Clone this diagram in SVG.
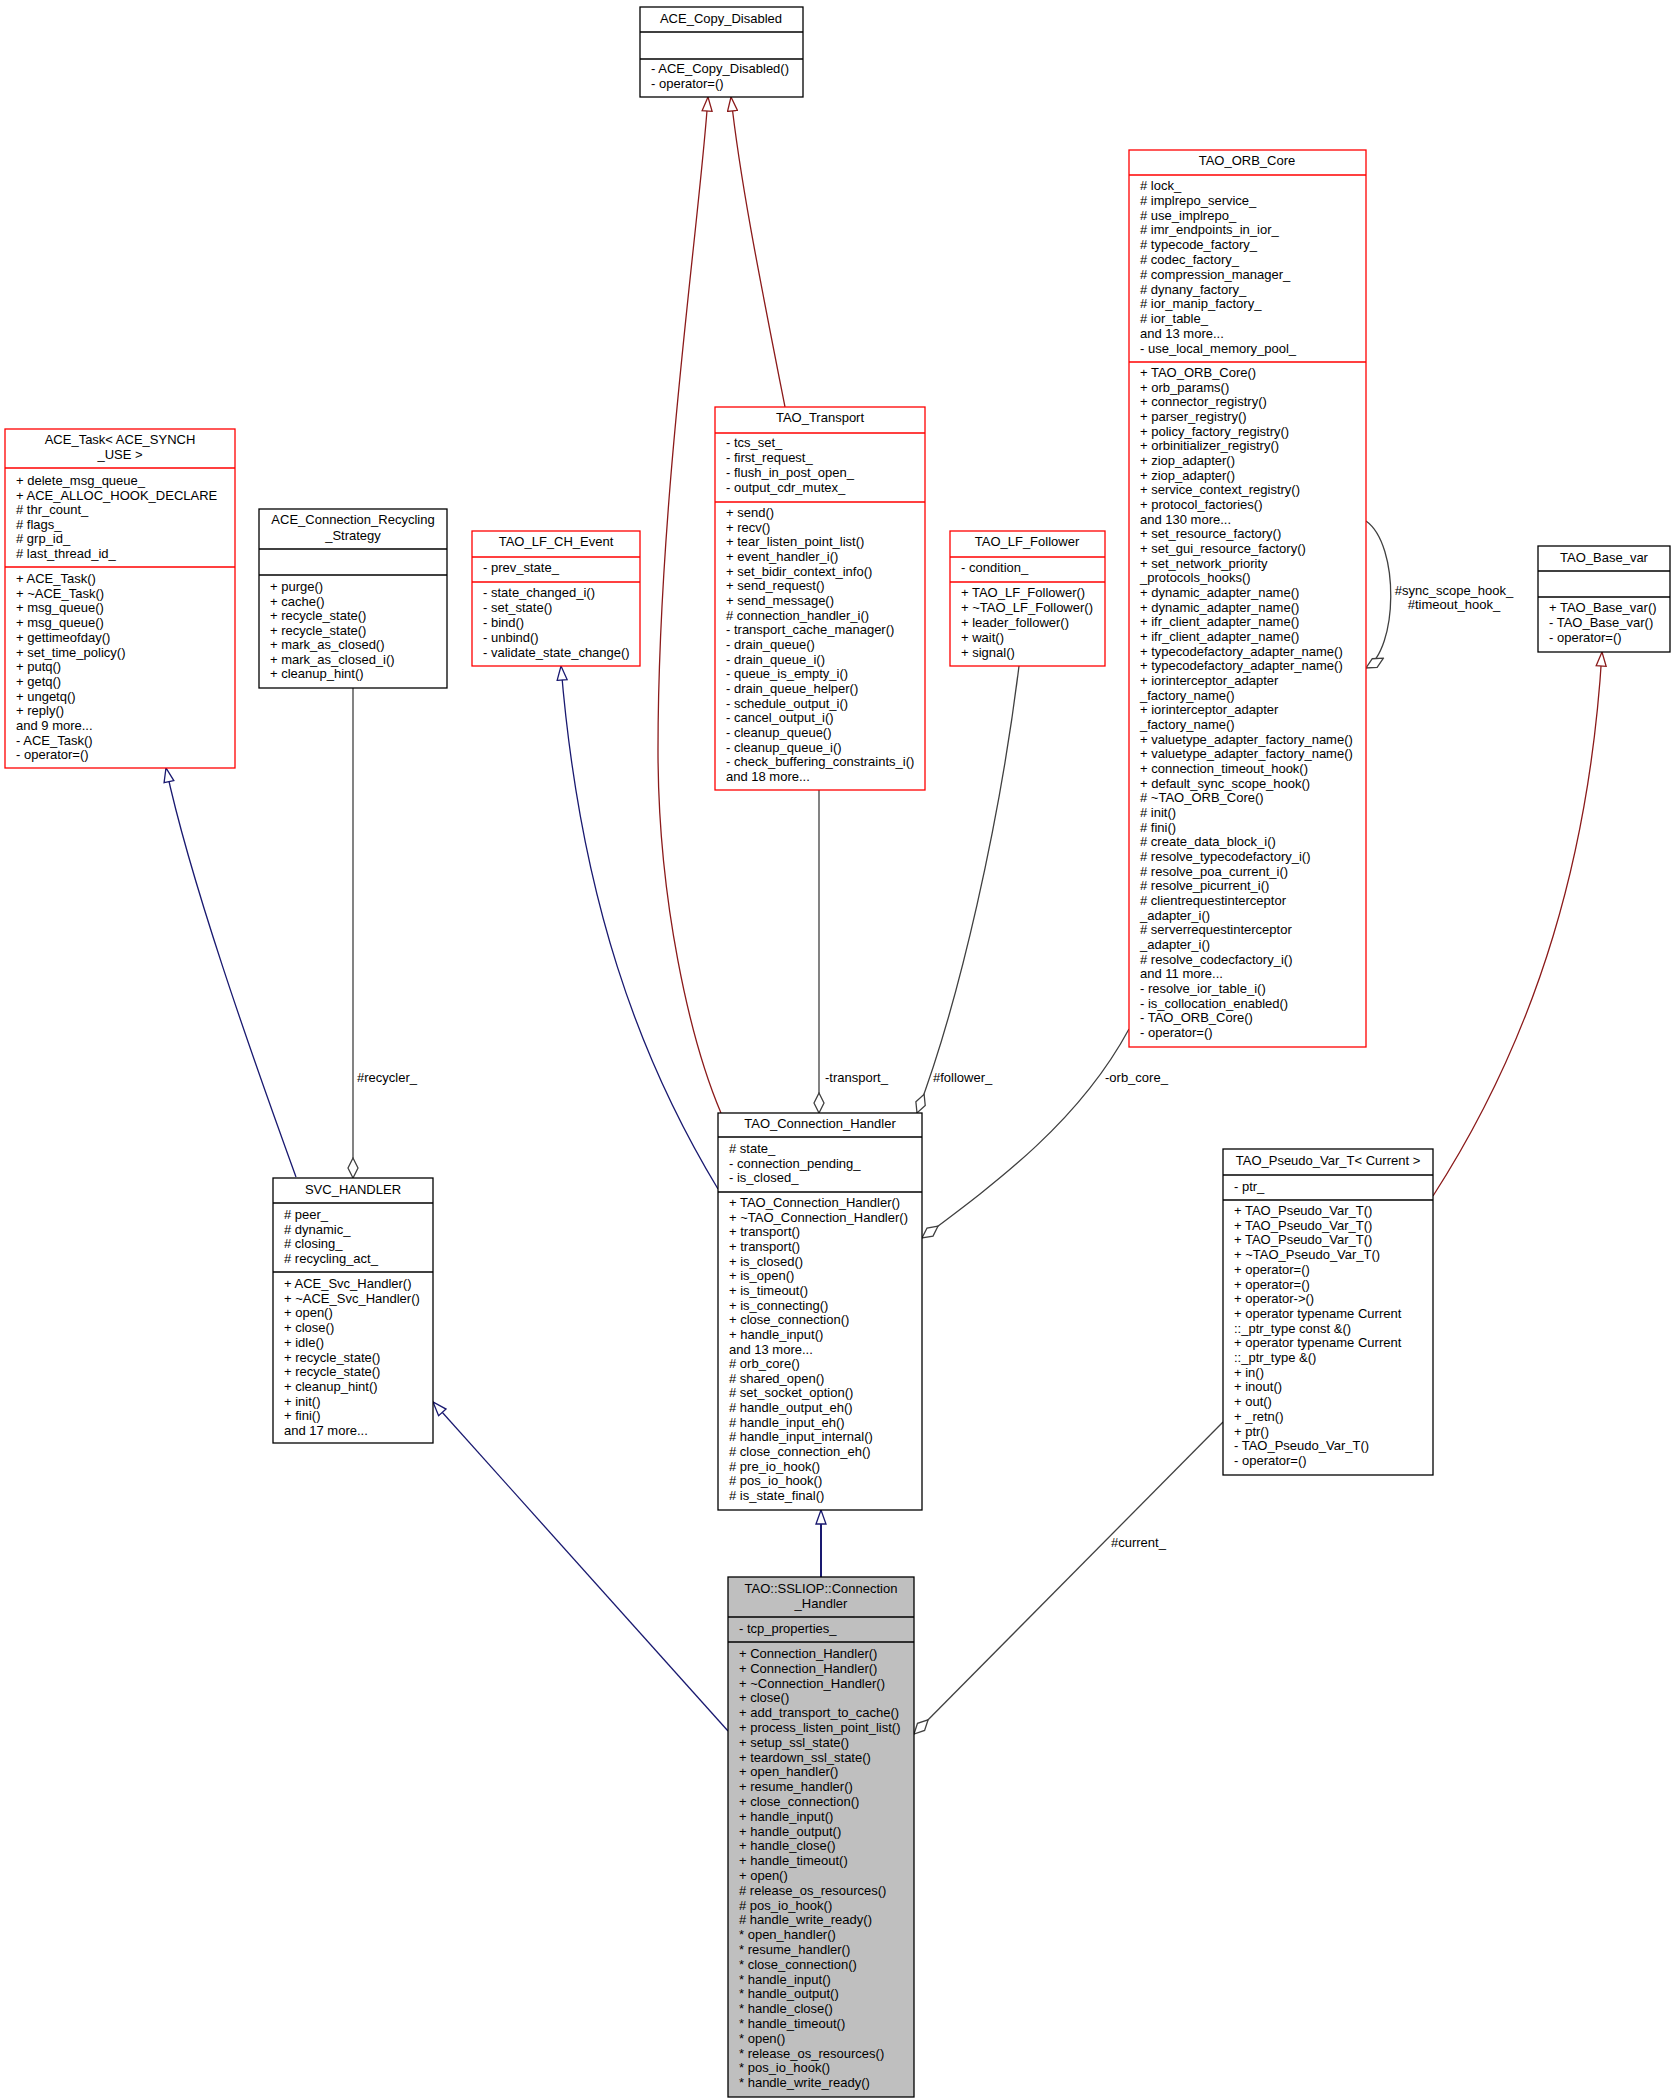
<svg xmlns="http://www.w3.org/2000/svg" width="1671" height="2099" viewBox="0 0 1671 2099">
<style>
text{font-family:"Liberation Sans",Arial,sans-serif;font-size:13px;fill:#000}
.t{text-anchor:middle}
.bk{fill:#fff;stroke:#000;stroke-width:1.3}
.rd{fill:#fff;stroke:#f00;stroke-width:1.3}
.gy{fill:#bfbfbf;stroke:#000;stroke-width:1.3}
.sk{stroke:#000;stroke-width:1.3}
.sr{stroke:#f00;stroke-width:1.3}
.nv{fill:none;stroke:#191970;stroke-width:1.3}
.dr{fill:none;stroke:#8b1a1a;stroke-width:1.3}
.cg{fill:none;stroke:#404040;stroke-width:1.3}
</style>
<defs>
<marker id="tn" markerUnits="userSpaceOnUse" markerWidth="16" markerHeight="12" viewBox="0 0 16 12" refX="15" refY="6" orient="auto"><path d="M1,1 L15,6 L1,11 Z" fill="#fff" stroke="#191970" stroke-width="1.3"/></marker>
<marker id="tr" markerUnits="userSpaceOnUse" markerWidth="16" markerHeight="12" viewBox="0 0 16 12" refX="15" refY="6" orient="auto"><path d="M1,1 L15,6 L1,11 Z" fill="#fff" stroke="#8b1a1a" stroke-width="1.3"/></marker>
<marker id="dm" markerUnits="userSpaceOnUse" markerWidth="22" markerHeight="12" viewBox="0 0 22 12" refX="21" refY="6" orient="auto"><path d="M1,6 L11,1 L21,6 L11,11 Z" fill="#fff" stroke="#404040" stroke-width="1.3"/></marker>
</defs>

<g id="connectors">
<path class="dr" d="M721,1113 C690,1040 658,900 658,750 C658,500 700,220 708,97" marker-end="url(#tr)"/>
<path class="dr" d="M785,407 C760,280 740,180 731,97" marker-end="url(#tr)"/>
<path class="nv" d="M296,1177 C250,1050 190,880 166,768" marker-end="url(#tn)"/>
<path class="nv" d="M718,1189 C640,1060 580,900 561,666" marker-end="url(#tn)"/>
<path class="dr" d="M1433,1196 C1540,1030 1590,850 1602,652" marker-end="url(#tr)"/>
<path class="nv" d="M821,1577 L821,1510" marker-end="url(#tn)" style="stroke-width:2"/>
<path class="nv" d="M728,1731 L433,1402" marker-end="url(#tn)"/>
<path class="cg" d="M353,688 L353,1178" marker-end="url(#dm)"/>
<path class="cg" d="M819,790 L819,1113" marker-end="url(#dm)"/>
<path class="cg" d="M1019,666 C1000,820 960,1000 917,1113" marker-end="url(#dm)"/>
<path class="cg" d="M1129,1029 C1080,1120 1000,1180 922,1238" marker-end="url(#dm)"/>
<path class="cg" d="M1366,521 C1400,545 1398,650 1366,668" marker-end="url(#dm)"/>
<path class="cg" d="M1223,1422 L914,1734" marker-end="url(#dm)"/>
<text x="357" y="1082">#recycler_</text>
<text x="825" y="1082">-transport_</text>
<text x="933" y="1082">#follower_</text>
<text x="1105" y="1082">-orb_core_</text>
<text class="t" x="1454" y="595">#sync_scope_hook_</text>
<text class="t" x="1454" y="609">#timeout_hook_</text>
<text x="1111" y="1547">#current_</text>
</g>

<g id="ACE_Copy_Disabled">
<rect class="bk" x="640" y="7" width="163" height="90"/>
<line class="sk" x1="640" y1="32" x2="803" y2="32"/><line class="sk" x1="640" y1="59" x2="803" y2="59"/>
<text class="t" x="721" y="23">ACE_Copy_Disabled</text>
<text x="651" y="73">- ACE_Copy_Disabled()<tspan x="651" dy="15">- operator=()</tspan></text>
</g>

<g id="ACE_Task">
<rect class="rd" x="5" y="429" width="230" height="339"/>
<line class="sr" x1="5" y1="468" x2="235" y2="468"/><line class="sr" x1="5" y1="567" x2="235" y2="567"/>
<text class="t" x="120" y="444">ACE_Task&lt; ACE_SYNCH<tspan x="120" dy="15">_USE &gt;</tspan></text>
<text x="16" y="485">+ delete_msg_queue_<tspan x="16" dy="14.6">+ ACE_ALLOC_HOOK_DECLARE</tspan><tspan x="16" dy="14.6"># thr_count_</tspan><tspan x="16" dy="14.6"># flags_</tspan><tspan x="16" dy="14.6"># grp_id_</tspan><tspan x="16" dy="14.6"># last_thread_id_</tspan></text>
<text x="16" y="583">+ ACE_Task()<tspan x="16" dy="14.7">+ ~ACE_Task()</tspan><tspan x="16" dy="14.7">+ msg_queue()</tspan><tspan x="16" dy="14.7">+ msg_queue()</tspan><tspan x="16" dy="14.7">+ gettimeofday()</tspan><tspan x="16" dy="14.7">+ set_time_policy()</tspan><tspan x="16" dy="14.7">+ putq()</tspan><tspan x="16" dy="14.7">+ getq()</tspan><tspan x="16" dy="14.7">+ ungetq()</tspan><tspan x="16" dy="14.7">+ reply()</tspan><tspan x="16" dy="14.7">and 9 more...</tspan><tspan x="16" dy="14.7">- ACE_Task()</tspan><tspan x="16" dy="14.7">- operator=()</tspan></text>
</g>

<g id="ACE_Connection_Recycling_Strategy">
<rect class="bk" x="259" y="509" width="188" height="179"/>
<line class="sk" x1="259" y1="549" x2="447" y2="549"/><line class="sk" x1="259" y1="575" x2="447" y2="575"/>
<text class="t" x="353" y="524">ACE_Connection_Recycling<tspan x="353" dy="16">_Strategy</tspan></text>
<text x="270" y="591">+ purge()<tspan x="270" dy="14.5">+ cache()</tspan><tspan x="270" dy="14.5">+ recycle_state()</tspan><tspan x="270" dy="14.5">+ recycle_state()</tspan><tspan x="270" dy="14.5">+ mark_as_closed()</tspan><tspan x="270" dy="14.5">+ mark_as_closed_i()</tspan><tspan x="270" dy="14.5">+ cleanup_hint()</tspan></text>
</g>

<g id="TAO_LF_CH_Event">
<rect class="rd" x="472" y="531" width="168" height="135"/>
<line class="sr" x1="472" y1="557" x2="640" y2="557"/><line class="sr" x1="472" y1="582" x2="640" y2="582"/>
<text class="t" x="556" y="546">TAO_LF_CH_Event</text>
<text x="483" y="572">- prev_state_</text>
<text x="483" y="597">- state_changed_i()<tspan x="483" dy="15">- set_state()</tspan><tspan x="483" dy="15">- bind()</tspan><tspan x="483" dy="15">- unbind()</tspan><tspan x="483" dy="15">- validate_state_change()</tspan></text>
</g>

<g id="TAO_Transport">
<rect class="rd" x="715" y="407" width="210" height="383"/>
<line class="sr" x1="715" y1="433" x2="925" y2="433"/><line class="sr" x1="715" y1="502" x2="925" y2="502"/>
<text class="t" x="820" y="422">TAO_Transport</text>
<text x="726" y="447">- tcs_set_<tspan x="726" dy="14.9">- first_request_</tspan><tspan x="726" dy="14.9">- flush_in_post_open_</tspan><tspan x="726" dy="14.9">- output_cdr_mutex_</tspan></text>
<text x="726" y="517">+ send()<tspan x="726" dy="14.67">+ recv()</tspan><tspan x="726" dy="14.67">+ tear_listen_point_list()</tspan><tspan x="726" dy="14.67">+ event_handler_i()</tspan><tspan x="726" dy="14.67">+ set_bidir_context_info()</tspan><tspan x="726" dy="14.67">+ send_request()</tspan><tspan x="726" dy="14.67">+ send_message()</tspan><tspan x="726" dy="14.67"># connection_handler_i()</tspan><tspan x="726" dy="14.67">- transport_cache_manager()</tspan><tspan x="726" dy="14.67">- drain_queue()</tspan><tspan x="726" dy="14.67">- drain_queue_i()</tspan><tspan x="726" dy="14.67">- queue_is_empty_i()</tspan><tspan x="726" dy="14.67">- drain_queue_helper()</tspan><tspan x="726" dy="14.67">- schedule_output_i()</tspan><tspan x="726" dy="14.67">- cancel_output_i()</tspan><tspan x="726" dy="14.67">- cleanup_queue()</tspan><tspan x="726" dy="14.67">- cleanup_queue_i()</tspan><tspan x="726" dy="14.67">- check_buffering_constraints_i()</tspan><tspan x="726" dy="14.67">and 18 more...</tspan></text>
</g>

<g id="TAO_LF_Follower">
<rect class="rd" x="950" y="531" width="155" height="135"/>
<line class="sr" x1="950" y1="557" x2="1105" y2="557"/><line class="sr" x1="950" y1="582" x2="1105" y2="582"/>
<text class="t" x="1027" y="546">TAO_LF_Follower</text>
<text x="961" y="572">- condition_</text>
<text x="961" y="597">+ TAO_LF_Follower()<tspan x="961" dy="15">+ ~TAO_LF_Follower()</tspan><tspan x="961" dy="15">+ leader_follower()</tspan><tspan x="961" dy="15">+ wait()</tspan><tspan x="961" dy="15">+ signal()</tspan></text>
</g>

<g id="TAO_ORB_Core">
<rect class="rd" x="1129" y="150" width="237" height="897"/>
<line class="sr" x1="1129" y1="175" x2="1366" y2="175"/><line class="sr" x1="1129" y1="362" x2="1366" y2="362"/>
<text class="t" x="1247" y="165">TAO_ORB_Core</text>
<text x="1140" y="190"># lock_<tspan x="1140" dy="14.8"># implrepo_service_</tspan><tspan x="1140" dy="14.8"># use_implrepo_</tspan><tspan x="1140" dy="14.8"># imr_endpoints_in_ior_</tspan><tspan x="1140" dy="14.8"># typecode_factory_</tspan><tspan x="1140" dy="14.8"># codec_factory_</tspan><tspan x="1140" dy="14.8"># compression_manager_</tspan><tspan x="1140" dy="14.8"># dynany_factory_</tspan><tspan x="1140" dy="14.8"># ior_manip_factory_</tspan><tspan x="1140" dy="14.8"># ior_table_</tspan><tspan x="1140" dy="14.8">and 13 more...</tspan><tspan x="1140" dy="14.8">- use_local_memory_pool_</tspan></text>
<text x="1140" y="377">+ TAO_ORB_Core()<tspan x="1140" dy="14.67">+ orb_params()</tspan><tspan x="1140" dy="14.67">+ connector_registry()</tspan><tspan x="1140" dy="14.67">+ parser_registry()</tspan><tspan x="1140" dy="14.67">+ policy_factory_registry()</tspan><tspan x="1140" dy="14.67">+ orbinitializer_registry()</tspan><tspan x="1140" dy="14.67">+ ziop_adapter()</tspan><tspan x="1140" dy="14.67">+ ziop_adapter()</tspan><tspan x="1140" dy="14.67">+ service_context_registry()</tspan><tspan x="1140" dy="14.67">+ protocol_factories()</tspan><tspan x="1140" dy="14.67">and 130 more...</tspan><tspan x="1140" dy="14.67">+ set_resource_factory()</tspan><tspan x="1140" dy="14.67">+ set_gui_resource_factory()</tspan><tspan x="1140" dy="14.67">+ set_network_priority</tspan><tspan x="1140" dy="14.67">_protocols_hooks()</tspan><tspan x="1140" dy="14.67">+ dynamic_adapter_name()</tspan><tspan x="1140" dy="14.67">+ dynamic_adapter_name()</tspan><tspan x="1140" dy="14.67">+ ifr_client_adapter_name()</tspan><tspan x="1140" dy="14.67">+ ifr_client_adapter_name()</tspan><tspan x="1140" dy="14.67">+ typecodefactory_adapter_name()</tspan><tspan x="1140" dy="14.67">+ typecodefactory_adapter_name()</tspan><tspan x="1140" dy="14.67">+ iorinterceptor_adapter</tspan><tspan x="1140" dy="14.67">_factory_name()</tspan><tspan x="1140" dy="14.67">+ iorinterceptor_adapter</tspan><tspan x="1140" dy="14.67">_factory_name()</tspan><tspan x="1140" dy="14.67">+ valuetype_adapter_factory_name()</tspan><tspan x="1140" dy="14.67">+ valuetype_adapter_factory_name()</tspan><tspan x="1140" dy="14.67">+ connection_timeout_hook()</tspan><tspan x="1140" dy="14.67">+ default_sync_scope_hook()</tspan><tspan x="1140" dy="14.67"># ~TAO_ORB_Core()</tspan><tspan x="1140" dy="14.67"># init()</tspan><tspan x="1140" dy="14.67"># fini()</tspan><tspan x="1140" dy="14.67"># create_data_block_i()</tspan><tspan x="1140" dy="14.67"># resolve_typecodefactory_i()</tspan><tspan x="1140" dy="14.67"># resolve_poa_current_i()</tspan><tspan x="1140" dy="14.67"># resolve_picurrent_i()</tspan><tspan x="1140" dy="14.67"># clientrequestinterceptor</tspan><tspan x="1140" dy="14.67">_adapter_i()</tspan><tspan x="1140" dy="14.67"># serverrequestinterceptor</tspan><tspan x="1140" dy="14.67">_adapter_i()</tspan><tspan x="1140" dy="14.67"># resolve_codecfactory_i()</tspan><tspan x="1140" dy="14.67">and 11 more...</tspan><tspan x="1140" dy="14.67">- resolve_ior_table_i()</tspan><tspan x="1140" dy="14.67">- is_collocation_enabled()</tspan><tspan x="1140" dy="14.67">- TAO_ORB_Core()</tspan><tspan x="1140" dy="14.67">- operator=()</tspan></text>
</g>

<g id="TAO_Base_var">
<rect class="bk" x="1538" y="546" width="132" height="106"/>
<line class="sk" x1="1538" y1="571" x2="1670" y2="571"/><line class="sk" x1="1538" y1="597" x2="1670" y2="597"/>
<text class="t" x="1604" y="562">TAO_Base_var</text>
<text x="1549" y="612">+ TAO_Base_var()<tspan x="1549" dy="15">- TAO_Base_var()</tspan><tspan x="1549" dy="15">- operator=()</tspan></text>
</g>

<g id="SVC_HANDLER">
<rect class="bk" x="273" y="1178" width="160" height="265"/>
<line class="sk" x1="273" y1="1203" x2="433" y2="1203"/><line class="sk" x1="273" y1="1272" x2="433" y2="1272"/>
<text class="t" x="353" y="1194">SVC_HANDLER</text>
<text x="284" y="1219"># peer_<tspan x="284" dy="14.7"># dynamic_</tspan><tspan x="284" dy="14.7"># closing_</tspan><tspan x="284" dy="14.7"># recycling_act_</tspan></text>
<text x="284" y="1288">+ ACE_Svc_Handler()<tspan x="284" dy="14.7">+ ~ACE_Svc_Handler()</tspan><tspan x="284" dy="14.7">+ open()</tspan><tspan x="284" dy="14.7">+ close()</tspan><tspan x="284" dy="14.7">+ idle()</tspan><tspan x="284" dy="14.7">+ recycle_state()</tspan><tspan x="284" dy="14.7">+ recycle_state()</tspan><tspan x="284" dy="14.7">+ cleanup_hint()</tspan><tspan x="284" dy="14.7">+ init()</tspan><tspan x="284" dy="14.7">+ fini()</tspan><tspan x="284" dy="14.7">and 17 more...</tspan></text>
</g>

<g id="TAO_Connection_Handler">
<rect class="bk" x="718" y="1113" width="204" height="397"/>
<line class="sk" x1="718" y1="1137" x2="922" y2="1137"/><line class="sk" x1="718" y1="1192" x2="922" y2="1192"/>
<text class="t" x="820" y="1128">TAO_Connection_Handler</text>
<text x="729" y="1153"># state_<tspan x="729" dy="14.5">- connection_pending_</tspan><tspan x="729" dy="14.5">- is_closed_</tspan></text>
<text x="729" y="1207">+ TAO_Connection_Handler()<tspan x="729" dy="14.65">+ ~TAO_Connection_Handler()</tspan><tspan x="729" dy="14.65">+ transport()</tspan><tspan x="729" dy="14.65">+ transport()</tspan><tspan x="729" dy="14.65">+ is_closed()</tspan><tspan x="729" dy="14.65">+ is_open()</tspan><tspan x="729" dy="14.65">+ is_timeout()</tspan><tspan x="729" dy="14.65">+ is_connecting()</tspan><tspan x="729" dy="14.65">+ close_connection()</tspan><tspan x="729" dy="14.65">+ handle_input()</tspan><tspan x="729" dy="14.65">and 13 more...</tspan><tspan x="729" dy="14.65"># orb_core()</tspan><tspan x="729" dy="14.65"># shared_open()</tspan><tspan x="729" dy="14.65"># set_socket_option()</tspan><tspan x="729" dy="14.65"># handle_output_eh()</tspan><tspan x="729" dy="14.65"># handle_input_eh()</tspan><tspan x="729" dy="14.65"># handle_input_internal()</tspan><tspan x="729" dy="14.65"># close_connection_eh()</tspan><tspan x="729" dy="14.65"># pre_io_hook()</tspan><tspan x="729" dy="14.65"># pos_io_hook()</tspan><tspan x="729" dy="14.65"># is_state_final()</tspan></text>
</g>

<g id="TAO_Pseudo_Var_T">
<rect class="bk" x="1223" y="1149" width="210" height="326"/>
<line class="sk" x1="1223" y1="1175" x2="1433" y2="1175"/><line class="sk" x1="1223" y1="1200" x2="1433" y2="1200"/>
<text class="t" x="1328" y="1165">TAO_Pseudo_Var_T&lt; Current &gt;</text>
<text x="1234" y="1191">- ptr_</text>
<text x="1234" y="1215">+ TAO_Pseudo_Var_T()<tspan x="1234" dy="14.7">+ TAO_Pseudo_Var_T()</tspan><tspan x="1234" dy="14.7">+ TAO_Pseudo_Var_T()</tspan><tspan x="1234" dy="14.7">+ ~TAO_Pseudo_Var_T()</tspan><tspan x="1234" dy="14.7">+ operator=()</tspan><tspan x="1234" dy="14.7">+ operator=()</tspan><tspan x="1234" dy="14.7">+ operator-&gt;()</tspan><tspan x="1234" dy="14.7">+ operator typename Current</tspan><tspan x="1234" dy="14.7">::_ptr_type const &amp;()</tspan><tspan x="1234" dy="14.7">+ operator typename Current</tspan><tspan x="1234" dy="14.7">::_ptr_type &amp;()</tspan><tspan x="1234" dy="14.7">+ in()</tspan><tspan x="1234" dy="14.7">+ inout()</tspan><tspan x="1234" dy="14.7">+ out()</tspan><tspan x="1234" dy="14.7">+ _retn()</tspan><tspan x="1234" dy="14.7">+ ptr()</tspan><tspan x="1234" dy="14.7">- TAO_Pseudo_Var_T()</tspan><tspan x="1234" dy="14.7">- operator=()</tspan></text>
</g>

<g id="TAO_SSLIOP_Connection_Handler">
<rect class="gy" x="728" y="1577" width="186" height="520"/>
<line class="sk" x1="728" y1="1617" x2="914" y2="1617"/><line class="sk" x1="728" y1="1642" x2="914" y2="1642"/>
<text class="t" x="821" y="1593">TAO::SSLIOP::Connection<tspan x="821" dy="14.5">_Handler</tspan></text>
<text x="739" y="1633">- tcp_properties_</text>
<text x="739" y="1658">+ Connection_Handler()<tspan x="739" dy="14.8">+ Connection_Handler()</tspan><tspan x="739" dy="14.8">+ ~Connection_Handler()</tspan><tspan x="739" dy="14.8">+ close()</tspan><tspan x="739" dy="14.8">+ add_transport_to_cache()</tspan><tspan x="739" dy="14.8">+ process_listen_point_list()</tspan><tspan x="739" dy="14.8">+ setup_ssl_state()</tspan><tspan x="739" dy="14.8">+ teardown_ssl_state()</tspan><tspan x="739" dy="14.8">+ open_handler()</tspan><tspan x="739" dy="14.8">+ resume_handler()</tspan><tspan x="739" dy="14.8">+ close_connection()</tspan><tspan x="739" dy="14.8">+ handle_input()</tspan><tspan x="739" dy="14.8">+ handle_output()</tspan><tspan x="739" dy="14.8">+ handle_close()</tspan><tspan x="739" dy="14.8">+ handle_timeout()</tspan><tspan x="739" dy="14.8">+ open()</tspan><tspan x="739" dy="14.8"># release_os_resources()</tspan><tspan x="739" dy="14.8"># pos_io_hook()</tspan><tspan x="739" dy="14.8"># handle_write_ready()</tspan><tspan x="739" dy="14.8">* open_handler()</tspan><tspan x="739" dy="14.8">* resume_handler()</tspan><tspan x="739" dy="14.8">* close_connection()</tspan><tspan x="739" dy="14.8">* handle_input()</tspan><tspan x="739" dy="14.8">* handle_output()</tspan><tspan x="739" dy="14.8">* handle_close()</tspan><tspan x="739" dy="14.8">* handle_timeout()</tspan><tspan x="739" dy="14.8">* open()</tspan><tspan x="739" dy="14.8">* release_os_resources()</tspan><tspan x="739" dy="14.8">* pos_io_hook()</tspan><tspan x="739" dy="14.8">* handle_write_ready()</tspan></text>
</g>
</svg>
